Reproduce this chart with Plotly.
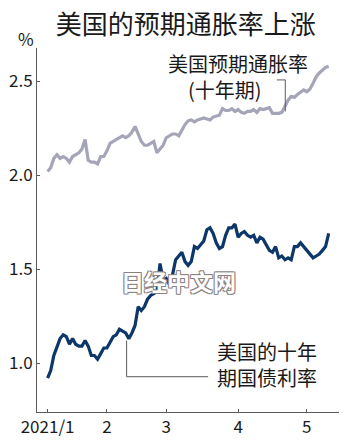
import plotly.graph_objects as go
import pandas as pd

# Categories: US trading days, 2021-01-04 .. 2021-05-12
trading_days = pd.bdate_range("2021-01-04", "2021-05-12").drop(
    pd.to_datetime(["2021-01-18", "2021-02-15"]))
dates = [d.strftime("%Y-%m-%d") for d in trading_days]

tick_dates = ["2021-01-04", "2021-02-01", "2021-03-01", "2021-04-01", "2021-05-03"]
tick_labels = ["2021/1", "2", "3", "4", "5"]

y_ticks = [1.0, 1.5, 2.0, 2.5]
y_tick_labels = ["1.0", "1.5", "2.0", "2.5"]

# 美国十年期国债利率 (%)
yield10 = [
    0.92, 0.96, 1.04, 1.08, 1.13, 1.15, 1.14, 1.10, 1.13, 1.10,
    1.09, 1.09, 1.12, 1.09, 1.04, 1.04, 1.02, 1.05, 1.08, 1.08,
    1.11, 1.14, 1.15, 1.18, 1.17, 1.16, 1.13, 1.16, 1.20, 1.30,
    1.28, 1.30, 1.34, 1.36, 1.37, 1.38, 1.53, 1.44, 1.45, 1.42,
    1.47, 1.55, 1.57, 1.59, 1.54, 1.52, 1.54, 1.62, 1.61, 1.63,
    1.65, 1.71, 1.72, 1.69, 1.64, 1.61, 1.62, 1.68, 1.72, 1.72,
    1.74, 1.67, 1.69, 1.70, 1.68, 1.67, 1.68, 1.64, 1.67, 1.66,
    1.63, 1.60, 1.59, 1.62, 1.56, 1.57, 1.55, 1.56, 1.55, 1.62,
    1.62, 1.64, 1.62, 1.60, 1.58, 1.56, 1.57, 1.58, 1.60, 1.62,
    1.69,
]

# 美国预期通胀率（十年期）(%)
breakeven10 = [
    2.02, 2.04, 2.09, 2.11, 2.09, 2.10, 2.09, 2.07, 2.10, 2.11,
    2.12, 2.14, 2.19, 2.08, 2.07, 2.07, 2.06, 2.10, 2.10, 2.13,
    2.17, 2.18, 2.19, 2.20, 2.21, 2.20, 2.21, 2.23, 2.26, 2.22,
    2.18, 2.16, 2.16, 2.17, 2.18, 2.12, 2.14, 2.16, 2.20, 2.21,
    2.22, 2.22, 2.21, 2.24, 2.27, 2.29, 2.295, 2.285, 2.295, 2.30,
    2.305, 2.30, 2.295, 2.31, 2.315, 2.32, 2.355, 2.345, 2.345, 2.355,
    2.34, 2.35, 2.335, 2.33, 2.34, 2.34, 2.35, 2.335, 2.355, 2.35,
    2.355, 2.36, 2.33, 2.33, 2.33, 2.335, 2.37, 2.40, 2.42, 2.415,
    2.43, 2.445, 2.455, 2.445, 2.46, 2.49, 2.525, 2.545, 2.56, 2.575,
    2.58,
]

FONT = "Noto Sans CJK SC"
AXIS = "#5a5a5a"
TXT = "#1a1a1a"
GRAY = "#a5a5ba"
NAVY = "#0c3768"

fig = go.Figure()
fig.add_trace(go.Scatter(x=dates, y=breakeven10, mode="lines",
                         line=dict(color=GRAY, width=3.2), hoverinfo="skip"))
fig.add_trace(go.Scatter(x=dates, y=yield10, mode="lines",
                         line=dict(color=NAVY, width=3.2), hoverinfo="skip"))

# leader lines (x in category-index units)
line_style = dict(color=AXIS, width=1)
fig.add_shape(type="line", xref="x", yref="y", x0=76.1, x1=76.1, y0=2.34, y1=2.508, line=line_style)
fig.add_shape(type="line", xref="x", yref="y", x0=73.4, x1=76.1, y0=2.508, y1=2.508, line=line_style)
fig.add_shape(type="line", xref="x", yref="y", x0=25.3, x1=25.3, y0=1.12, y1=0.927, line=line_style)
fig.add_shape(type="line", xref="x", yref="y", x0=25.3, x1=51.4, y0=0.927, y1=0.927, line=line_style)

ann_font = dict(family=FONT, size=20, color=TXT)
fig.add_annotation(x=38.0, y=2.524, xref="x", yref="y",
                   text="美国预期通胀率<br>\u3000(十年期)", align="left",
                   showarrow=False, xanchor="left", yanchor="middle", font=ann_font)
fig.add_annotation(x=53.5, y=0.990, xref="x", yref="y",
                   text="美国的十年<br>期国债利率", align="left",
                   showarrow=False, xanchor="left", yanchor="middle", font=ann_font)

# unit label
fig.add_annotation(x=0, y=1, xref="paper", yref="paper", text="%", showarrow=False,
                   xanchor="right", yanchor="middle", xshift=-1, yshift=10,
                   font=dict(family=FONT, size=17, color=TXT))

# watermark
fig.add_annotation(x=0.47, y=0.36, xref="paper", yref="paper", text="<b>日经中文网</b>",
                   showarrow=False, xanchor="center", yanchor="middle",
                   font=dict(family=FONT, size=23, color="#ffffff",
                             shadow="1px 1px 0 #8c8282, -1px -1px 0 #8c8282, 1px -1px 0 #8c8282, -1px 1px 0 #8c8282"))

fig.update_layout(
    width=350, height=444,
    margin=dict(l=37, r=11, t=48, b=32, autoexpand=False),
    paper_bgcolor="white", plot_bgcolor="white",
    showlegend=False,
    font=dict(family=FONT, color=TXT),
    title=dict(text="美国的预期通胀率上涨", x=172.5 / 350, xref="paper", xanchor="center",
               y=1 - 25 / 444, yanchor="middle", yref="container",
               font=dict(family=FONT, size=26, color=TXT)),
    xaxis=dict(type="category", range=[-3.39, 93.3], tickmode="array",
               tickvals=tick_dates, ticktext=tick_labels, automargin=False,
               ticks="inside", ticklen=3, tickcolor=AXIS, showline=True,
               linecolor=AXIS, linewidth=1, showgrid=False, zeroline=False,
               ticklabelstandoff=0,
               tickfont=dict(family=FONT, size=17, color=TXT)),
    yaxis=dict(range=[0.739, 2.678], tickmode="array", tickvals=y_ticks,
               ticktext=y_tick_labels, ticks="inside", ticklen=3, tickcolor=AXIS,
               showline=True, linecolor=AXIS, linewidth=1, showgrid=False,
               automargin=False,
               zeroline=False, tickfont=dict(family=FONT, size=17, color=TXT)),
)

fig.write_html("out.html")
